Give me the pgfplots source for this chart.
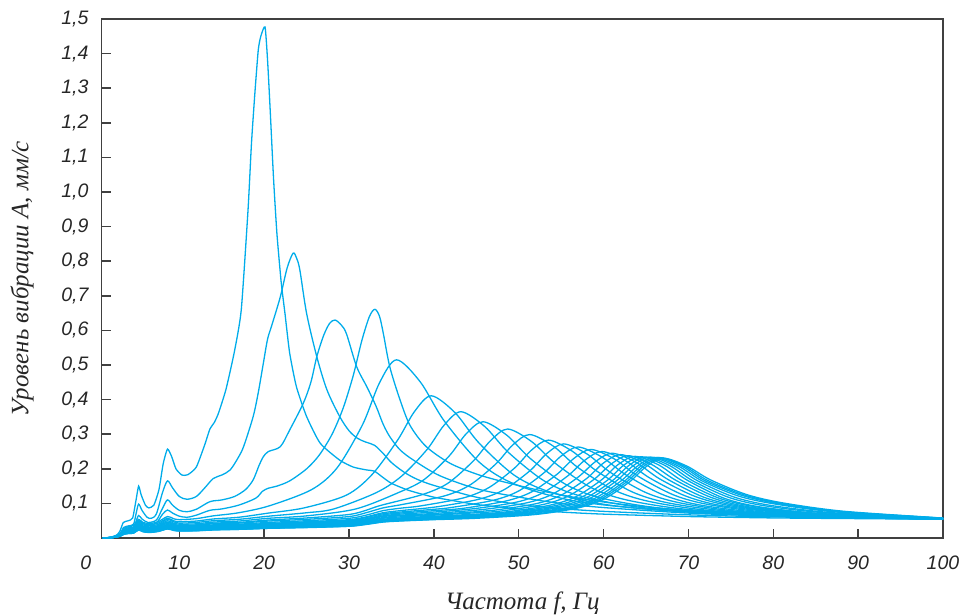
\documentclass[border=0pt]{standalone}
\usepackage{fontspec}
\setmainfont{Liberation Sans}
\newfontfamily\serifit{Liberation Serif}
\usepackage{pgfplots}
\pgfplotsset{compat=1.18}
\definecolor{cy}{RGB}{0,172,234}
\definecolor{axgray}{RGB}{64,64,64}
\pgfplotsset{cur/.style={color=cy, line width=1.3pt, smooth, mark=none}}
\begin{document}
\begin{tikzpicture}
\begin{axis}[
  at={(0,0)}, anchor=south west,
  scale only axis, width=841.3pt, height=519pt,
  xmin=0.85, xmax=100, ymin=0, ymax=1.5,
  xtick={10,20,30,40,50,60,70,80,90,100},
  ytick={0.1,0.2,0.3,0.4,0.5,0.6,0.7,0.8,0.9,1.0,1.1,1.2,1.3,1.4,1.5},
  /pgf/number format/assume math mode=true,
  yticklabel style={/pgf/number format/use comma, /pgf/number format/fixed, /pgf/number format/fixed zerofill, /pgf/number format/precision=1, anchor=east, xshift=-13pt},
  tick label style={font=\fontsize{19.5}{22}\selectfont\itshape, inner sep=0pt, text=black!85},
  xticklabel style={anchor=north, yshift=-18pt},
  tick align=inside, major tick length=9pt,
  tick style={line width=1.5pt, axgray},
  xtick pos=left, ytick pos=left,
  axis line style={line width=1.6pt, axgray},
  clip=false,
  xlabel={Частота f, Гц},
  ylabel={Уровень вибрации A, мм/с},
  label style={font=\serifit\itshape\fontsize{25}{28}\selectfont, text=black!85},
  xlabel style={at={(axis description cs:0.5,-0.1368)}, anchor=base},
  ylabel style={at={(axis description cs:-0.087,0.5)}, anchor=base},
]
% C1
\addplot[cur, tension=0.35] coordinates {(1,0) (2,0.002) (2.6,0.008) (3,0.02) (3.4,0.045) (4,0.05) (4.5,0.058) (4.9,0.11) (5.2,0.15) (5.5,0.125) (6,0.095) (6.4,0.087) (7,0.095) (7.6,0.14) (8.1,0.215) (8.6,0.257) (9.1,0.235) (9.6,0.2) (10.3,0.182) (11,0.183) (12,0.205) (13,0.27) (13.6,0.315) (14.1,0.333) (14.6,0.36) (15.5,0.43) (16.5,0.54) (17.3,0.66) (18.1,0.95) (18.5,1.14) (18.9,1.285) (19.3,1.41) (19.6,1.45) (20.1,1.477) (20.4,1.38) (20.7,1.24) (21.1,1.04) (21.5,0.88) (22,0.74) (22.45,0.649) (23,0.535) (23.8,0.437) (25,0.351) (26.6,0.274) (28.9,0.225) (30.5,0.205) (32,0.197) (33,0.193) (34,0.175) (35,0.158) (37,0.138) (40,0.118) (45,0.097) (50,0.084) (55,0.075) (60,0.069) (70,0.062) (80,0.058) (90,0.056) (100,0.054)};
% C2
\addplot[cur] coordinates {(1,0) (2,0.001) (3,0.012) (3.4,0.03) (4,0.035) (4.6,0.04) (4.9,0.07) (5.2,0.098) (5.6,0.08) (6.2,0.06) (6.7,0.057) (7.3,0.07) (8,0.13) (8.6,0.165) (9.2,0.145) (10,0.12) (10.9,0.112) (12,0.12) (13,0.145) (14,0.172) (15,0.182) (16,0.197) (17,0.235) (17.6,0.266) (18.7,0.351) (19.3,0.42) (19.9,0.505) (20.4,0.575) (20.9,0.615) (21.9,0.697) (22.7,0.78) (23.4,0.823) (23.8,0.81) (24.2,0.775) (25,0.649) (26.2,0.524) (27.4,0.428) (28.9,0.351) (30,0.31) (31,0.288) (32,0.277) (33,0.268) (34,0.245) (35,0.218) (36.5,0.19) (38,0.17) (40,0.152) (45,0.118) (50,0.097) (55,0.085) (60,0.077) (70,0.067) (80,0.061) (90,0.058) (100,0.055)};
% C3
\addplot[cur] coordinates {(1,0) (2,0.001) (3,0.008) (3.4,0.022) (4,0.026) (4.6,0.03) (4.9,0.048) (5.2,0.065) (5.6,0.055) (6.3,0.045) (7.3,0.052) (8,0.085) (8.6,0.11) (9.2,0.095) (10,0.08) (10.9,0.076) (12,0.083) (13.6,0.105) (15,0.11) (16.5,0.12) (17.8,0.14) (18.7,0.168) (19.4,0.21) (19.9,0.235) (20.5,0.25) (21.9,0.264) (23,0.312) (24.6,0.389) (25.5,0.45) (26.2,0.524) (27,0.585) (27.7,0.62) (28.35,0.63) (29.1,0.615) (29.7,0.59) (30.9,0.495) (32.1,0.437) (33.2,0.38) (34,0.33) (34.8,0.293) (36,0.255) (37.6,0.225) (40.7,0.18) (45.4,0.14) (51.3,0.113) (55,0.1) (60,0.088) (70,0.072) (80,0.063) (90,0.058) (100,0.055)};
% C4
\addplot[cur] coordinates {(1,0) (2,0.001) (3,0.007) (3.4,0.018) (4,0.021) (4.6,0.025) (4.9,0.04) (5.2,0.052) (5.6,0.045) (6.3,0.037) (7.3,0.044) (8,0.068) (8.6,0.081) (9.2,0.072) (10,0.063) (10.9,0.06) (12,0.066) (13.6,0.08) (15,0.084) (17,0.095) (19,0.115) (19.8,0.135) (20.5,0.144) (21.5,0.15) (23,0.165) (25,0.2) (26.5,0.24) (28,0.3) (29.3,0.375) (30.5,0.47) (31.5,0.57) (32.4,0.64) (33.05,0.661) (33.6,0.64) (34.05,0.59) (34.8,0.495) (36,0.4) (37.2,0.325) (39.1,0.264) (41.9,0.216) (45,0.185) (47.8,0.165) (52,0.14) (56,0.12) (60,0.104) (65,0.09) (70,0.08) (80,0.067) (90,0.06) (100,0.056)};
% C5
\addplot[cur] coordinates {(1,0) (2,0.003) (3,0.013) (3.5,0.029) (4,0.033) (4.6,0.036) (5.2,0.054) (5.7,0.045) (6.5,0.042) (7.5,0.047) (8.6,0.062) (9.3,0.056) (10,0.053) (12,0.056) (14,0.064) (17,0.073) (20.6,0.093) (25.6,0.140) (28.6,0.203) (31.6,0.328) (33.6,0.449) (35.6,0.515) (38.4,0.451) (41.2,0.339) (45.4,0.218) (49.6,0.155) (56.6,0.107) (67.1,0.080) (80,0.066) (100,0.055)};
% C6
\addplot[cur] coordinates {(1,0) (2,0.002) (3,0.012) (3.5,0.026) (4,0.030) (4.6,0.032) (5.2,0.050) (5.7,0.041) (6.5,0.038) (7.5,0.043) (8.6,0.057) (9.3,0.050) (10,0.047) (12,0.049) (14,0.055) (17,0.060) (20.5,0.072) (24.7,0.087) (29.7,0.124) (32.7,0.183) (35.7,0.282) (37.7,0.365) (39.7,0.411) (42.5,0.362) (45.3,0.275) (49.5,0.181) (53.7,0.133) (60.7,0.095) (71.2,0.073) (85,0.062) (100,0.054)};
% C7
\addplot[cur] coordinates {(1,0) (2,0.002) (3,0.011) (3.5,0.024) (4,0.027) (4.6,0.030) (5.2,0.047) (5.7,0.038) (6.5,0.035) (7.5,0.039) (8.6,0.054) (9.3,0.047) (10,0.043) (12,0.045) (14,0.050) (17,0.054) (20.5,0.063) (25,0.073) (28.2,0.084) (33.2,0.131) (36.2,0.179) (39.2,0.256) (41.2,0.326) (43.2,0.365) (46,0.322) (48.8,0.247) (53,0.165) (57.2,0.122) (64.2,0.089) (74.7,0.070) (87,0.061) (100,0.054)};
% C8
\addplot[cur] coordinates {(1,0) (2,0.002) (3,0.010) (3.5,0.022) (4,0.025) (4.6,0.027) (5.2,0.044) (5.7,0.035) (6.5,0.032) (7.5,0.036) (8.6,0.050) (9.3,0.043) (10,0.040) (12,0.041) (14,0.046) (17,0.049) (20.5,0.057) (25,0.064) (30.8,0.084) (35.8,0.131) (38.8,0.168) (41.8,0.237) (43.8,0.301) (45.8,0.336) (48.6,0.297) (51.4,0.229) (55.6,0.154) (59.8,0.115) (66.8,0.086) (77.3,0.068) (89,0.060) (100,0.054)};
% C9
\addplot[cur] coordinates {(1,0) (2,0.002) (3,0.009) (3.5,0.021) (4,0.023) (4.6,0.025) (5.2,0.041) (5.7,0.033) (6.5,0.030) (7.5,0.034) (8.6,0.046) (9.3,0.040) (10,0.037) (12,0.038) (14,0.043) (17,0.045) (20.5,0.052) (25,0.058) (30,0.068) (32,0.080) (33.7,0.094) (38.7,0.126) (41.7,0.159) (44.7,0.224) (46.7,0.282) (48.7,0.315) (51.5,0.279) (54.3,0.216) (58.5,0.146) (62.7,0.110) (69.7,0.083) (80.2,0.067) (90,0.060) (100,0.055)};
% C10
\addplot[cur] coordinates {(1,0) (2,0.002) (3,0.009) (3.5,0.020) (4,0.022) (4.6,0.024) (5.2,0.039) (5.7,0.031) (6.5,0.028) (7.5,0.032) (8.6,0.045) (9.3,0.038) (10,0.035) (12,0.036) (14,0.041) (17,0.043) (20.5,0.049) (25,0.054) (30,0.062) (32,0.073) (34,0.087) (36.3,0.097) (41.3,0.122) (44.3,0.154) (47.3,0.214) (49.3,0.269) (51.3,0.299) (54.1,0.265) (56.9,0.205) (61.1,0.140) (65.3,0.106) (72.3,0.080) (82.8,0.065) (91,0.060) (100,0.055)};
% C11
\addplot[cur] coordinates {(1,0) (2,0.002) (3,0.008) (3.5,0.018) (4,0.021) (4.6,0.023) (5.2,0.037) (5.7,0.029) (6.5,0.026) (7.5,0.030) (8.6,0.042) (9.3,0.036) (10,0.033) (12,0.034) (14,0.038) (17,0.040) (20.5,0.045) (25,0.050) (30,0.057) (32,0.066) (34,0.079) (36,0.086) (38.5,0.093) (43.5,0.116) (46.5,0.146) (49.5,0.202) (51.5,0.254) (53.5,0.283) (56.3,0.251) (59.1,0.195) (63.3,0.134) (67.5,0.102) (74.5,0.078) (85,0.064) (100,0.055)};
% C12
\addplot[cur] coordinates {(1,0) (2,0.002) (3,0.008) (3.5,0.017) (4,0.020) (4.6,0.021) (5.2,0.035) (5.7,0.028) (6.5,0.025) (7.5,0.028) (8.6,0.039) (9.3,0.034) (10,0.031) (12,0.032) (14,0.036) (17,0.038) (20.5,0.042) (25,0.047) (30,0.053) (32,0.061) (34,0.073) (36,0.079) (40.3,0.090) (45.3,0.112) (48.3,0.140) (51.3,0.194) (53.3,0.244) (55.3,0.272) (58.1,0.242) (60.9,0.188) (65.1,0.130) (69.3,0.100) (76.3,0.076) (86.8,0.063) (100,0.055)};
% C13
\addplot[cur] coordinates {(1,0) (2,0.002) (3,0.008) (3.5,0.017) (4,0.019) (4.6,0.021) (5.2,0.034) (5.7,0.027) (6.5,0.024) (7.5,0.028) (8.6,0.038) (9.3,0.033) (10,0.030) (12,0.031) (14,0.035) (17,0.036) (20.5,0.041) (25,0.045) (30,0.051) (32,0.059) (34,0.070) (36,0.075) (40,0.083) (42,0.088) (47,0.109) (50,0.136) (53,0.189) (55,0.237) (57,0.263) (59.8,0.234) (62.6,0.183) (66.8,0.127) (71,0.097) (78,0.075) (88.5,0.063) (100,0.055)};
% C14
\addplot[cur] coordinates {(1,0) (2,0.002) (3,0.007) (3.5,0.016) (4,0.018) (4.6,0.020) (5.2,0.033) (5.7,0.026) (6.5,0.023) (7.5,0.027) (8.6,0.037) (9.3,0.032) (10,0.029) (12,0.030) (14,0.033) (17,0.035) (20.5,0.040) (25,0.043) (30,0.049) (32,0.056) (34,0.067) (36,0.072) (40,0.079) (43.5,0.086) (48.5,0.107) (51.5,0.133) (54.5,0.184) (56.5,0.230) (58.5,0.256) (61.3,0.228) (64.1,0.178) (68.3,0.124) (72.5,0.096) (79.5,0.074) (90,0.062) (100,0.055)};
% C15
\addplot[cur] coordinates {(1,0) (2,0.001) (3,0.007) (3.5,0.016) (4,0.018) (4.6,0.019) (5.2,0.032) (5.7,0.025) (6.5,0.023) (7.5,0.026) (8.6,0.036) (9.3,0.031) (10,0.028) (12,0.029) (14,0.032) (17,0.034) (20.5,0.038) (25,0.042) (30,0.047) (32,0.054) (34,0.064) (36,0.069) (40,0.075) (44.8,0.085) (49.8,0.104) (52.8,0.130) (55.8,0.180) (57.8,0.225) (59.8,0.250) (62.6,0.223) (65.4,0.174) (69.6,0.122) (73.8,0.094) (80.8,0.074) (91.3,0.061) (100,0.056)};
% C16
\addplot[cur] coordinates {(1,0) (2,0.001) (3,0.007) (3.5,0.015) (4,0.017) (4.6,0.019) (5.2,0.031) (5.7,0.024) (6.5,0.022) (7.5,0.025) (8.6,0.035) (9.3,0.030) (10,0.027) (12,0.028) (14,0.031) (17,0.033) (20.5,0.037) (25,0.040) (30,0.045) (32,0.052) (34,0.062) (36,0.066) (40,0.071) (46,0.083) (51,0.102) (54,0.127) (57,0.176) (59,0.220) (61,0.245) (63.8,0.219) (66.6,0.171) (70.8,0.120) (75,0.093) (82,0.073) (92.5,0.061) (100,0.056)};
% C17
\addplot[cur] coordinates {(1,0) (2,0.001) (3,0.007) (3.5,0.015) (4,0.016) (4.6,0.018) (5.2,0.029) (5.7,0.023) (6.5,0.021) (7.5,0.024) (8.6,0.033) (9.3,0.028) (10,0.026) (12,0.027) (14,0.030) (17,0.031) (20.5,0.035) (25,0.039) (30,0.043) (32,0.050) (34,0.059) (36,0.064) (40,0.068) (45,0.076) (47,0.080) (52,0.099) (55,0.124) (58,0.172) (60,0.217) (62,0.241) (64.8,0.215) (67.6,0.169) (71.8,0.118) (76,0.092) (83,0.072) (93.5,0.061) (100,0.056)};
% C18
\addplot[cur] coordinates {(1,0) (2,0.001) (3,0.006) (3.5,0.014) (4,0.016) (4.6,0.017) (5.2,0.028) (5.7,0.023) (6.5,0.020) (7.5,0.023) (8.6,0.032) (9.3,0.027) (10,0.025) (12,0.026) (14,0.029) (17,0.030) (20.5,0.034) (25,0.037) (30,0.042) (32,0.048) (34,0.057) (36,0.061) (40,0.066) (45,0.073) (47.9,0.078) (52.9,0.097) (55.9,0.122) (58.9,0.170) (60.9,0.214) (62.9,0.238) (65.7,0.212) (68.5,0.167) (72.7,0.117) (76.9,0.091) (83.9,0.072) (94.4,0.060) (100,0.056)};
% C19
\addplot[cur] coordinates {(1,0) (2,0.001) (3,0.006) (3.5,0.013) (4,0.015) (4.6,0.017) (5.2,0.027) (5.7,0.022) (6.5,0.019) (7.5,0.022) (8.6,0.031) (9.3,0.026) (10,0.024) (12,0.025) (14,0.028) (17,0.029) (20.5,0.033) (25,0.036) (30,0.040) (32,0.046) (34,0.054) (36,0.058) (40,0.063) (45,0.069) (48.7,0.076) (53.7,0.095) (56.7,0.119) (59.7,0.167) (61.7,0.212) (63.7,0.236) (66.5,0.211) (69.3,0.165) (73.5,0.116) (77.7,0.091) (84.7,0.072) (95.2,0.060) (100,0.056)};
% C20
\addplot[cur] coordinates {(1,0) (2,0.001) (3,0.006) (3.5,0.013) (4,0.015) (4.6,0.016) (5.2,0.027) (5.7,0.021) (6.5,0.019) (7.5,0.022) (8.6,0.030) (9.3,0.026) (10,0.0235) (12,0.024) (14,0.027) (17,0.028) (20.5,0.032) (25,0.035) (30,0.039) (32,0.045) (34,0.053) (36,0.057) (40,0.061) (45,0.067) (49.4,0.075) (54.4,0.094) (57.4,0.118) (60.4,0.166) (62.4,0.211) (64.4,0.235) (67.2,0.210) (70,0.165) (74.2,0.115) (78.4,0.090) (85.4,0.071) (95.9,0.059) (100,0.057)};
% C21
\addplot[cur] coordinates {(1,0) (2,0.001) (3,0.006) (3.5,0.013) (4,0.015) (4.6,0.016) (5.2,0.026) (5.7,0.021) (6.5,0.019) (7.5,0.021) (8.6,0.029) (9.3,0.025) (10,0.023) (12,0.024) (14,0.026) (17,0.028) (20.5,0.031) (25,0.034) (30,0.038) (32,0.044) (34,0.052) (36,0.056) (40,0.059) (45,0.065) (50,0.074) (55,0.093) (58,0.117) (61,0.165) (63,0.210) (65,0.234) (67.8,0.209) (70.6,0.164) (74.8,0.117) (79,0.093) (86,0.073) (96.5,0.059) (100,0.057)};
% C22
\addplot[cur] coordinates {(1,0) (2,0.001) (3,0.006) (3.5,0.013) (4,0.014) (4.6,0.016) (5.2,0.025) (5.7,0.020) (6.5,0.018) (7.5,0.021) (8.6,0.029) (9.3,0.025) (10,0.022) (12,0.023) (14,0.026) (17,0.027) (20.5,0.031) (25,0.033) (30,0.037) (32,0.043) (34,0.051) (36,0.054) (40,0.058) (45,0.063) (50.5,0.073) (55.5,0.092) (58.5,0.116) (61.5,0.165) (63.5,0.209) (65.5,0.234) (68.3,0.209) (71.1,0.165) (75.3,0.119) (79.5,0.095) (86.5,0.074) (97,0.059) (100,0.057)};
% C23
\addplot[cur] coordinates {(1,0) (2,0.001) (3,0.006) (3.5,0.012) (4,0.014) (4.6,0.015) (5.2,0.025) (5.7,0.020) (6.5,0.018) (7.5,0.020) (8.6,0.028) (9.3,0.024) (10,0.022) (12,0.022) (14,0.025) (17,0.026) (20.5,0.030) (25,0.032) (30,0.036) (32,0.042) (34,0.049) (36,0.053) (40,0.057) (45,0.062) (51,0.072) (56,0.090) (59,0.115) (62,0.164) (64,0.208) (66,0.233) (68.8,0.208) (71.6,0.165) (75.8,0.122) (80,0.099) (87,0.076) (97.5,0.060) (100,0.057)};
% C24
\addplot[cur] coordinates {(1,0) (2,0.001) (3,0.005) (3.5,0.012) (4,0.014) (4.6,0.015) (5.2,0.024) (5.7,0.019) (6.5,0.017) (7.5,0.020) (8.6,0.027) (9.3,0.023) (10,0.021) (12,0.022) (14,0.025) (17,0.026) (20.5,0.029) (25,0.032) (30,0.035) (32,0.041) (34,0.048) (36,0.052) (40,0.055) (45,0.060) (51.4,0.071) (56.4,0.089) (59.4,0.114) (62.4,0.163) (64.4,0.208) (66.4,0.233) (69.2,0.208) (72,0.165) (76.2,0.124) (80.4,0.100) (87.4,0.077) (97.9,0.060) (100,0.058)};
% C25
\addplot[cur] coordinates {(1,0) (2,0.001) (3,0.005) (3.5,0.012) (4,0.013) (4.6,0.014) (5.2,0.024) (5.7,0.019) (6.5,0.017) (7.5,0.019) (8.6,0.027) (9.3,0.023) (10,0.021) (12,0.021) (14,0.024) (17,0.025) (20.5,0.028) (25,0.031) (30,0.034) (32,0.040) (34,0.047) (36,0.050) (40,0.054) (45,0.059) (51.7,0.069) (56.7,0.088) (59.7,0.113) (62.7,0.162) (64.7,0.207) (66.7,0.232) (69.5,0.208) (72.3,0.166) (76.5,0.125) (80.7,0.101) (87.7,0.077) (98.2,0.060) (100,0.058)};
% C26
\addplot[cur] coordinates {(1,0) (2,0.001) (3,0.005) (3.5,0.011) (4,0.013) (4.6,0.014) (5.2,0.023) (5.7,0.018) (6.5,0.016) (7.5,0.019) (8.6,0.026) (9.3,0.022) (10,0.020) (12,0.021) (14,0.023) (17,0.025) (20.5,0.028) (25,0.030) (30,0.034) (32,0.039) (34,0.046) (36,0.049) (40,0.053) (45,0.057) (52,0.068) (57,0.087) (60,0.112) (63,0.161) (65,0.206) (67,0.231) (69.8,0.208) (72.6,0.168) (76.8,0.126) (81,0.102) (88,0.078) (98.5,0.060) (100,0.058)};
\end{axis}
\node[anchor=north, inner sep=0pt, font=\fontsize{19.5}{22}\selectfont\itshape, text=black!85] at (-16pt,-18pt) {0};
\pgfresetboundingbox
\path[use as bounding box] (-101.7pt,-76pt) rectangle (861.3pt,538pt);
\end{tikzpicture}
\end{document}
